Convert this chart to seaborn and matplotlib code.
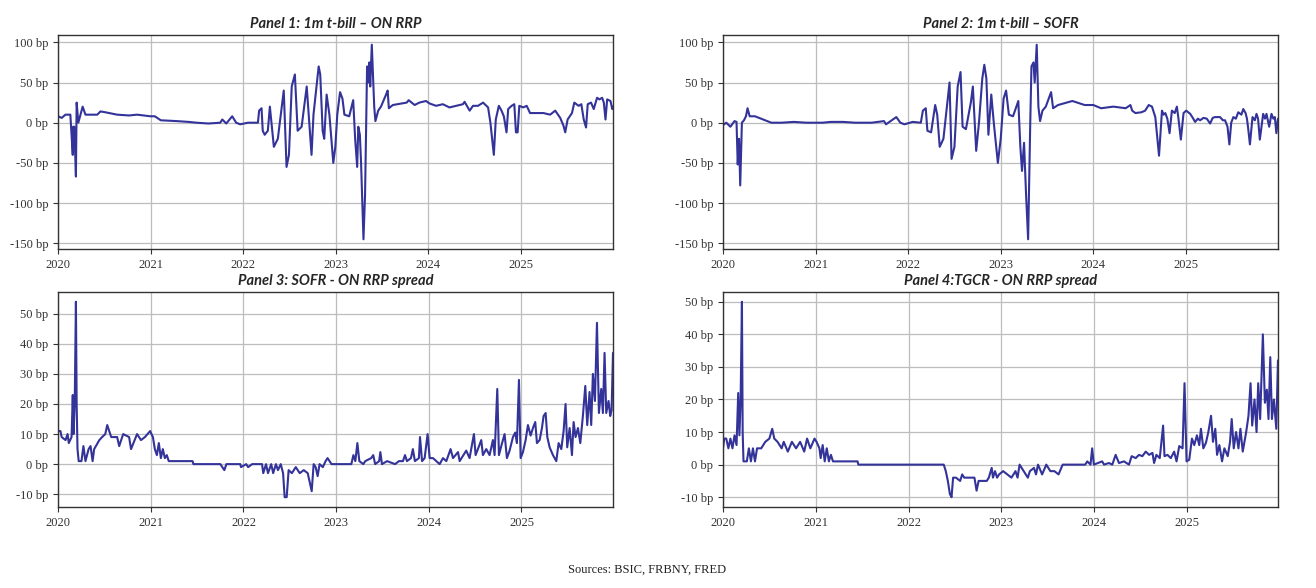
import matplotlib
matplotlib.use("Agg")
import matplotlib.pyplot as plt
import matplotlib.dates as mdates
from matplotlib.ticker import FuncFormatter
import seaborn as sns
import pandas as pd

# (decimal years since 2020, spread in bp)
tbill_rrp = [
    (0.000, 8), (0.040, 6), (0.080, 10), (0.133, 10), (0.159, -40), (0.163, -5), (0.176, -5), (0.193, -67),
    (0.201, 25), (0.219, 0), (0.231, 5), (0.266, 20), (0.296, 10), (0.424, 10), (0.458, 14), (0.510, 13),
    (0.638, 10), (0.767, 9), (0.853, 10), (0.998, 8), (1.045, 8), (1.110, 3), (1.281, 2), (1.410, 1),
    (1.495, 0), (1.624, -1), (1.752, 0), (1.774, 4), (1.817, -1), (1.881, 8), (1.924, 0), (1.967, -2),
    (2.052, 0), (2.159, 0), (2.172, 15), (2.198, 18), (2.211, -10), (2.232, -15), (2.266, -10), (2.288, 20),
    (2.331, -30), (2.374, -20), (2.438, 40), (2.468, -55), (2.494, -40), (2.524, 45), (2.558, 60), (2.588, -10),
    (2.631, -5), (2.686, 45), (2.738, -40), (2.759, 10), (2.815, 70), (2.832, 60), (2.858, -10), (2.875, -20),
    (2.901, 35), (2.931, 10), (2.973, -50), (2.995, -30), (3.016, 10), (3.046, 38), (3.072, 30), (3.093, 10),
    (3.145, 8), (3.188, 28), (3.209, -20), (3.231, -55), (3.243, -5), (3.260, -15), (3.273, -50), (3.299, -145),
    (3.316, -90), (3.338, 70), (3.350, 50), (3.363, 75), (3.372, 45), (3.389, 97), (3.415, 20), (3.428, 2),
    (3.458, 15), (3.488, 20), (3.543, 35), (3.560, 40), (3.573, 18), (3.616, 22), (3.766, 25), (3.787, 28),
    (3.852, 22), (3.902, 25), (3.975, 27), (4.011, 24), (4.083, 21), (4.156, 23), (4.228, 19), (4.301, 21),
    (4.373, 23), (4.391, 26), (4.446, 15), (4.482, 21), (4.536, 21), (4.591, 25), (4.645, 19), (4.670, 0),
    (4.707, -40), (4.728, 4), (4.761, 21), (4.790, 15), (4.815, 8), (4.844, -12), (4.862, 17), (4.899, 21),
    (4.928, 23), (4.946, -12), (4.964, -12), (4.982, 21), (5.025, 19), (5.062, 21), (5.098, 12), (5.170, 12),
    (5.243, 12), (5.315, 10), (5.370, 15), (5.424, 6), (5.460, -4), (5.478, -12), (5.504, 4), (5.551, 12),
    (5.576, 25), (5.623, 21), (5.652, 23), (5.678, 4), (5.703, -6), (5.721, 23), (5.757, 25), (5.786, 17),
    (5.822, 31), (5.848, 29), (5.877, 31), (5.895, 25), (5.913, 4), (5.931, 29), (5.967, 27), (5.986, 17),
    (5.994, 20),
]

tbill_sofr = [
    (0.000, -3), (0.035, 0), (0.080, -5), (0.124, 2), (0.146, 1), (0.159, -52), (0.173, -20), (0.186, -78),
    (0.204, 0), (0.226, 3), (0.248, 8), (0.265, 18), (0.288, 8), (0.345, 8), (0.456, 3), (0.522, 0),
    (0.633, 0), (0.765, 1), (0.898, 0), (1.000, 0), (1.075, 0), (1.164, 1), (1.296, 1), (1.429, 0),
    (1.606, 0), (1.739, 2), (1.761, -2), (1.872, 7), (1.916, 0), (1.960, -2), (2.049, 1), (2.137, 0),
    (2.159, 15), (2.190, 18), (2.208, -10), (2.248, -12), (2.292, 22), (2.314, 10), (2.341, -30), (2.381, -20),
    (2.447, 50), (2.469, -45), (2.500, -30), (2.535, 45), (2.566, 63), (2.588, -5), (2.624, -8), (2.677, 25),
    (2.699, 45), (2.735, -35), (2.765, 0), (2.801, 55), (2.823, 72), (2.845, 55), (2.867, -15), (2.898, 35),
    (2.925, 0), (2.969, -50), (3.000, -20), (3.031, 30), (3.058, 40), (3.088, 10), (3.133, 8), (3.190, 27),
    (3.212, -30), (3.230, -60), (3.252, -25), (3.274, -90), (3.296, -145), (3.319, 0), (3.332, 70), (3.354, 75),
    (3.367, 50), (3.389, 97), (3.407, 20), (3.425, 2), (3.451, 15), (3.487, 20), (3.544, 38), (3.566, 18),
    (3.619, 22), (3.774, 27), (3.907, 22), (4.000, 22), (4.084, 18), (4.217, 20), (4.350, 18), (4.401, 22),
    (4.420, 15), (4.455, 12), (4.520, 13), (4.560, 15), (4.599, 22), (4.634, 20), (4.670, 7), (4.710, -41),
    (4.742, 15), (4.760, 10), (4.778, 12), (4.800, 5), (4.824, -13), (4.849, 15), (4.880, 12), (4.903, 20),
    (4.920, 5), (4.946, -21), (4.975, 12), (5.004, 15), (5.047, 11), (5.075, 6), (5.100, 1), (5.130, 5),
    (5.154, 3), (5.190, 6), (5.226, 5), (5.262, -1), (5.290, 6), (5.315, 7), (5.369, 7), (5.400, 3),
    (5.423, 3), (5.450, -5), (5.470, -27), (5.490, 0), (5.513, 7), (5.540, 5), (5.566, 13), (5.600, 10),
    (5.620, 17), (5.645, 12), (5.660, 5), (5.674, -8), (5.692, -27), (5.720, 7), (5.745, 3), (5.763, 11),
    (5.780, 5), (5.799, -21), (5.835, 11), (5.855, 5), (5.871, 11), (5.900, -5), (5.925, 11), (5.945, 5),
    (5.961, 7), (5.978, -13), (5.995, 5),
]

sofr_rrp = [
    (0.000, 11), (0.026, 11), (0.039, 9), (0.081, 8), (0.103, 10), (0.116, 7), (0.146, 9), (0.159, 23),
    (0.167, 10), (0.180, 20), (0.193, 54), (0.201, 20), (0.210, 5), (0.223, 1), (0.253, 1), (0.274, 6),
    (0.296, 1), (0.330, 5), (0.351, 6), (0.373, 1), (0.390, 5), (0.446, 8), (0.476, 9), (0.510, 10),
    (0.531, 13), (0.574, 9), (0.638, 9), (0.660, 6), (0.703, 10), (0.767, 9), (0.788, 5), (0.853, 10),
    (0.895, 8), (0.938, 9), (0.994, 11), (1.024, 9), (1.045, 5), (1.067, 3), (1.088, 7), (1.110, 2),
    (1.131, 5), (1.153, 2), (1.174, 3), (1.195, 1), (1.452, 1), (1.461, 0), (1.752, 0), (1.795, -2),
    (1.817, 0), (1.967, 0), (1.975, -1), (2.031, 0), (2.052, -1), (2.095, 0), (2.202, 0), (2.215, -3),
    (2.245, 0), (2.266, -3), (2.301, 0), (2.322, -3), (2.352, 0), (2.374, -2), (2.404, 0), (2.429, -3),
    (2.446, -11), (2.468, -11), (2.489, -2), (2.524, -3), (2.566, -1), (2.609, -3), (2.652, -2), (2.695, -3),
    (2.716, -6), (2.738, -9), (2.759, 0), (2.781, -1), (2.802, -4), (2.823, 0), (2.858, -1), (2.888, 1),
    (2.909, 2), (2.952, 0), (2.999, 0), (3.166, 0), (3.188, 3), (3.209, 1), (3.231, 7), (3.252, 1),
    (3.295, 0), (3.316, 1), (3.380, 2), (3.402, 3), (3.423, 0), (3.466, 1), (3.479, 4), (3.496, 0),
    (3.552, 1), (3.637, 0), (3.680, 1), (3.723, 1), (3.745, 3), (3.766, 1), (3.809, 2), (3.830, 5),
    (3.852, 1), (3.895, 2), (3.907, 9), (3.929, 1), (3.957, 2), (3.989, 10), (4.011, 2), (4.047, 2),
    (4.119, 0), (4.155, 2), (4.191, 1), (4.237, 5), (4.263, 2), (4.317, 4), (4.335, 1), (4.406, 4.5),
    (4.442, 2), (4.489, 10), (4.507, 3), (4.532, 5), (4.568, 8), (4.586, 3), (4.622, 5), (4.658, 3),
    (4.694, 8), (4.712, 3), (4.741, 25), (4.759, 3), (4.784, 6), (4.820, 10), (4.845, 2), (4.874, 4.5),
    (4.910, 9), (4.935, 10.5), (4.953, 7), (4.975, 28), (4.993, 2), (5.018, 4), (5.047, 8), (5.072, 13),
    (5.101, 9.5), (5.126, 12), (5.151, 14), (5.169, 7), (5.198, 8), (5.223, 12), (5.241, 16), (5.263, 17),
    (5.281, 9), (5.306, 5.6), (5.342, 3), (5.378, 1), (5.403, 7), (5.432, 5), (5.457, 11), (5.478, 20),
    (5.496, 5.6), (5.522, 12), (5.547, 3), (5.565, 14), (5.586, 9), (5.612, 12), (5.637, 7), (5.665, 16),
    (5.691, 26), (5.712, 13), (5.737, 24), (5.755, 13), (5.773, 30), (5.795, 21), (5.817, 47), (5.838, 17),
    (5.863, 25), (5.881, 17), (5.899, 37), (5.917, 17), (5.942, 21), (5.960, 16), (5.975, 18), (5.990, 37),
]

tgcr_rrp = [
    (0.000, 5), (0.013, 8), (0.035, 8), (0.058, 5), (0.080, 8), (0.102, 5), (0.124, 9), (0.146, 6),
    (0.164, 22), (0.177, 9), (0.190, 20), (0.204, 50), (0.212, 10), (0.221, 1), (0.257, 1), (0.279, 5),
    (0.301, 1), (0.323, 5), (0.345, 1), (0.367, 5), (0.412, 5), (0.456, 7), (0.500, 8), (0.531, 11),
    (0.553, 8), (0.588, 7), (0.633, 5), (0.655, 7), (0.699, 4), (0.743, 7), (0.788, 5), (0.832, 7),
    (0.876, 4), (0.907, 8), (0.942, 5), (0.987, 8), (1.009, 7), (1.040, 5), (1.053, 2), (1.075, 6),
    (1.097, 1), (1.119, 5), (1.142, 1), (1.164, 3), (1.186, 1), (1.451, 1), (1.460, 0), (2.381, 0),
    (2.403, -2), (2.425, -5), (2.447, -9), (2.465, -10), (2.482, -4), (2.513, -4), (2.558, -5), (2.580, -3),
    (2.602, -4), (2.712, -4), (2.735, -8), (2.757, -5), (2.845, -5), (2.867, -4), (2.898, -1), (2.912, -4),
    (2.934, -2), (2.956, -4), (2.978, -3), (3.022, -2), (3.066, -3), (3.111, -4), (3.155, -2), (3.177, -4),
    (3.199, 0), (3.243, -2), (3.288, -4), (3.310, -2), (3.354, -1), (3.376, -3), (3.398, 0), (3.442, -3),
    (3.487, 0), (3.531, -2), (3.575, -2), (3.619, -3), (3.664, 0), (3.907, 0), (3.929, 1), (3.964, 0),
    (3.982, 5), (4.000, 0), (4.090, 1), (4.110, 0), (4.162, 0.5), (4.199, 0), (4.235, 3), (4.271, 0.5),
    (4.325, 1), (4.379, 0), (4.408, 2.6), (4.451, 2), (4.487, 3), (4.523, 2.6), (4.560, 4), (4.596, 3),
    (4.632, 3.6), (4.650, 0.5), (4.675, 3), (4.711, 2), (4.747, 12), (4.762, 2.6), (4.794, 3), (4.830, 2),
    (4.866, 4), (4.892, 1), (4.921, 5.7), (4.957, 5), (4.978, 25), (5.000, 1), (5.029, 1.5), (5.058, 8),
    (5.083, 6), (5.112, 9), (5.137, 6), (5.155, 11), (5.181, 5), (5.209, 6.7), (5.235, 10), (5.264, 15),
    (5.285, 7), (5.310, 11), (5.329, 3), (5.354, 6), (5.383, 1), (5.408, 5), (5.444, 2.6), (5.469, 7),
    (5.487, 14), (5.509, 5), (5.534, 10), (5.560, 5), (5.581, 11), (5.606, 4), (5.643, 10), (5.668, 15),
    (5.690, 25), (5.708, 12), (5.733, 20), (5.755, 10), (5.773, 25), (5.794, 14), (5.823, 40), (5.845, 19),
    (5.866, 23), (5.884, 14), (5.903, 33), (5.921, 14), (5.942, 20), (5.968, 11), (5.986, 32),
]

titles = [
    "Panel 1: 1m t-bill \u2013 ON RRP",
    "Panel 2: 1m t-bill \u2013 SOFR",
    "Panel 3: SOFR - ON RRP spread",
    "Panel 4:TGCR - ON RRP spread",
]
series = [tbill_rrp, tbill_sofr, sofr_rrp, tgcr_rrp]

LINE = "#33339a"

sns.set_style("ticks")
plt.rcParams["font.family"] = ["Liberation Serif", "DejaVu Serif"]

fig = plt.figure(figsize=(13.16, 5.88), dpi=100)
positions = [
    [0.0441, 0.5765, 0.4217, 0.3640],
    [0.5494, 0.5765, 0.4217, 0.3640],
    [0.0441, 0.1378, 0.4217, 0.3656],
    [0.5494, 0.1378, 0.4217, 0.3656],
]

start = pd.Timestamp("2020-01-01")
for pos, data, title in zip(positions, series, titles):
    ax = fig.add_axes(pos)
    df = pd.DataFrame(data, columns=["yr", "bp"])
    df["date"] = start + pd.to_timedelta(df["yr"] * 365.25, unit="D")
    sns.lineplot(data=df, x="date", y="bp", ax=ax, color=LINE, lw=1.5, estimator=None)
    ax.set_xlim(df["date"].min(), df["date"].max())
    ax.margins(y=0.05)
    ax.xaxis.set_major_locator(mdates.YearLocator())
    ax.xaxis.set_major_formatter(mdates.DateFormatter("%Y"))
    ax.yaxis.set_major_formatter(FuncFormatter(lambda v, p: f"{v:.0f} bp"))
    ax.grid(True, color="#bdbdbd", lw=0.9)
    ax.set_xlabel("")
    ax.set_ylabel("")
    ax.tick_params(labelsize=9, colors="#333333", length=3.5, width=0.8)
    for s in ax.spines.values():
        s.set_color("#333333")
        s.set_linewidth(1.0)
    ax.set_title(title, fontsize=10.5, fontweight="bold", fontstyle="italic",
                 family=["Lato", "DejaVu Sans"], pad=5)

fig.text(0.492, 0.031, "Sources: BSIC, FRBNY, FRED", ha="center", va="center",
         fontsize=9, color="#222222")

fig.savefig("out.png", dpi=100)
